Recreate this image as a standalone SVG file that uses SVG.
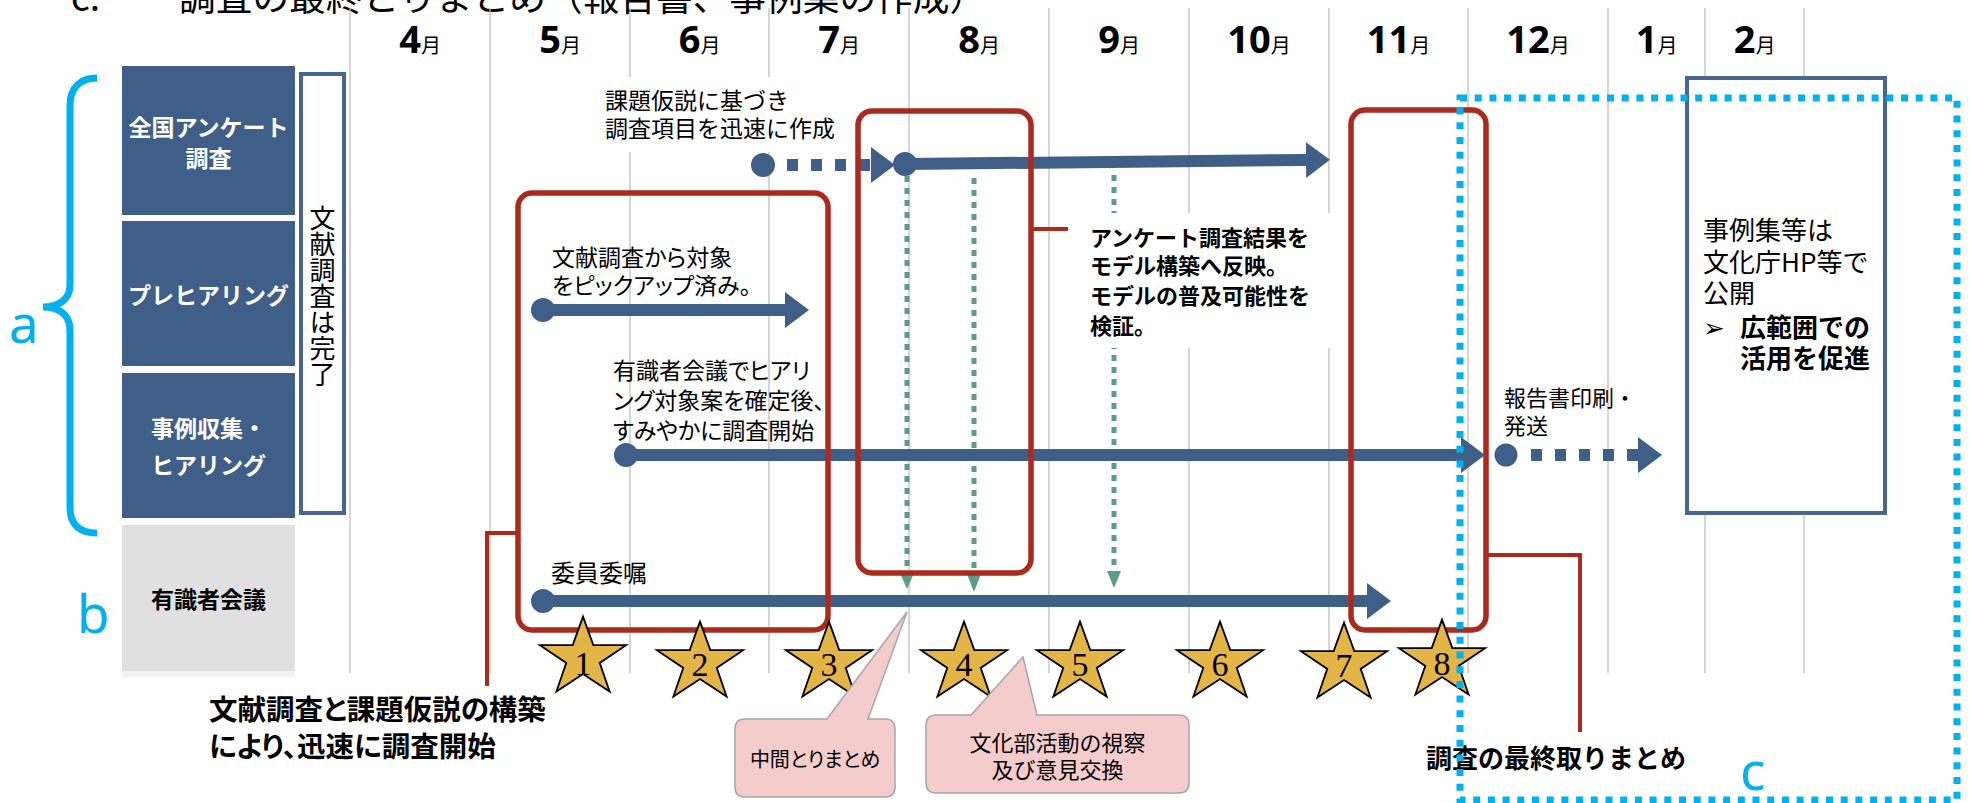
<svg xmlns="http://www.w3.org/2000/svg" width="1970" height="803" viewBox="0 0 1970 803">
<style>
text{font-family:"Noto Sans CJK JP","Noto Sans",sans-serif;fill:#000}
.p{font-feature-settings:"palt"}
.grid{stroke:#BFBFBF;stroke-width:1.3}
.hdr{fill:#405F88}
.hdrt{fill:#fff;font-weight:bold;font-size:23px;text-anchor:middle}
.mn{font-size:38px;font-weight:bold;font-family:"Noto Sans",sans-serif}
.mj{font-size:20px}
.t23{font-size:23px}
.t22{font-size:22px}
.b22{font-size:22px;font-weight:bold}
.bl{stroke:#405F88;stroke-width:12;fill:none}
.dsh{stroke-dasharray:11 13}
.dot{fill:#405F88}
.red{fill:none;stroke:#AB2A1E;stroke-width:5.5}
.redl{fill:none;stroke:#AB2A1E;stroke-width:4}
.grn{stroke:#5A9B8A;stroke-width:5;stroke-dasharray:6 6}
.gh{fill:#5A9B8A}
.star{fill:#E3B547;stroke:#000;stroke-width:1.8}
.sn{font-family:"Liberation Serif",serif;font-size:34px;text-anchor:middle}
.call{fill:#F4CCCC;stroke:#A6A6A6;stroke-width:1.5}
.cyan{fill:none;stroke:#00B0F0;stroke-width:7;stroke-dasharray:7 7.7}
.lbl{fill:#00B0F0;font-family:"Noto Sans","DejaVu Sans",sans-serif;font-size:53px}
.box{fill:#fff;stroke:#47658E;stroke-width:4}
</style>
<defs>
<marker id="ah" markerUnits="userSpaceOnUse" markerWidth="24" markerHeight="36" refX="0" refY="18" orient="auto"><path d="M0,0 L24,18 L0,36 Z" fill="#405F88"/></marker>
<path id="star" d="M0,-41.4 L10.3,-12.9 L43.1,-12.8 L16.7,4.9 L26.6,33.5 L0,16 L-26.6,33.5 L-16.7,4.9 L-43.1,-12.8 L-10.3,-12.9 Z"/>
</defs>

<g id="title">
<text x="71" y="11" font-size="37">c.</text>
<text x="179" y="11" font-size="36.7">調査の最終とりまとめ（報告書、事例集の作成）</text>
</g>

<g id="grid">
<line class="grid" x1="350" y1="8" x2="350" y2="673"/>
<line class="grid" x1="490" y1="8" x2="490" y2="673"/>
<line class="grid" x1="630" y1="8" x2="630" y2="673"/>
<line class="grid" x1="769" y1="8" x2="769" y2="673"/>
<line class="grid" x1="909" y1="8" x2="909" y2="673"/>
<line class="grid" x1="1049" y1="8" x2="1049" y2="673"/>
<line class="grid" x1="1189" y1="8" x2="1189" y2="673"/>
<line class="grid" x1="1329" y1="8" x2="1329" y2="673"/>
<line class="grid" x1="1468" y1="8" x2="1468" y2="673"/>
<line class="grid" x1="1608" y1="8" x2="1608" y2="673"/>
<line class="grid" x1="1705" y1="8" x2="1705" y2="673"/>
<line class="grid" x1="1804" y1="8" x2="1804" y2="673"/>
</g>

<g id="months">
<text x="420" y="53" text-anchor="middle"><tspan class="mn">4</tspan><tspan class="mj">月</tspan></text>
<text x="560" y="53" text-anchor="middle"><tspan class="mn">5</tspan><tspan class="mj">月</tspan></text>
<text x="699.5" y="53" text-anchor="middle"><tspan class="mn">6</tspan><tspan class="mj">月</tspan></text>
<text x="839" y="53" text-anchor="middle"><tspan class="mn">7</tspan><tspan class="mj">月</tspan></text>
<text x="979" y="53" text-anchor="middle"><tspan class="mn">8</tspan><tspan class="mj">月</tspan></text>
<text x="1119" y="53" text-anchor="middle"><tspan class="mn">9</tspan><tspan class="mj">月</tspan></text>
<text x="1259" y="53" text-anchor="middle"><tspan class="mn">10</tspan><tspan class="mj">月</tspan></text>
<text x="1398.5" y="53" text-anchor="middle"><tspan class="mn">11</tspan><tspan class="mj">月</tspan></text>
<text x="1538" y="53" text-anchor="middle"><tspan class="mn">12</tspan><tspan class="mj">月</tspan></text>
<text x="1656.5" y="53" text-anchor="middle"><tspan class="mn">1</tspan><tspan class="mj">月</tspan></text>
<text x="1754.5" y="53" text-anchor="middle"><tspan class="mn">2</tspan><tspan class="mj">月</tspan></text>
</g>

<g id="brace-labels">
<path d="M97,78 C80,78 70,88 70,105 L70,285 C70,300 58,307 43,307 C58,307 70,314 70,330 L70,508 C70,525 80,533 97,533" fill="none" stroke="#00B0F0" stroke-width="7"/>
<text class="lbl" x="9" y="343">a</text>
<text class="lbl" x="77" y="633">b</text>
</g>

<g id="hdr-survey"><rect class="hdr" x="122" y="66" width="173" height="149"/><text class="hdrt" x="208.5" y="136">全国アンケート</text><text class="hdrt" x="208.5" y="167">調査</text></g>
<g id="hdr-pre"><rect class="hdr" x="122" y="221" width="173" height="145"/><text class="hdrt" x="208.5" y="304">プレヒアリング</text></g>
<g id="hdr-case"><rect class="hdr" x="122" y="373" width="173" height="145"/><text class="hdrt" x="208.5" y="437">事例収集・</text><text class="hdrt" x="208.5" y="474">ヒアリング</text></g>
<g id="hdr-expert"><rect fill="#E0E0E0" x="122" y="525" width="173" height="146"/><rect fill="#F2F2F2" x="122" y="671" width="173" height="6"/><text x="208.5" y="608" font-size="23" font-weight="bold" text-anchor="middle">有識者会議</text></g>

<g id="lit-done">
<rect class="box" x="301" y="74" width="43" height="439"/>
<text x="322.5" y="205" font-size="26" writing-mode="vertical-rl">文献調査は完了</text>
</g>

<g id="green-arrows">
<line class="grn" x1="907" y1="176" x2="907" y2="573"/><path class="gh" d="M900,573 L914,573 L907,589 Z"/>
<line class="grn" x1="974" y1="178" x2="974" y2="575"/><path class="gh" d="M967,574 L981,574 L974,592 Z"/>
<line class="grn" x1="1114" y1="175" x2="1114" y2="571"/><path class="gh" d="M1107,571 L1121,571 L1114,588 Z"/>
</g>

<g id="text-bg">
<rect x="592" y="77" width="264" height="75" fill="#fff"/>
<rect x="1072" y="213" width="264" height="135" fill="#fff"/>
</g>

<g id="connectors">
<circle class="dot" cx="763" cy="165" r="12"/>
<line class="bl dsh" x1="787" y1="165" x2="871" y2="165" marker-end="url(#ah)"/>
<circle class="dot" cx="905" cy="164" r="12"/>
<line class="bl" x1="905" y1="164" x2="1306" y2="160" marker-end="url(#ah)"/>
<circle class="dot" cx="543" cy="310" r="12"/>
<line class="bl" x1="543" y1="310" x2="785" y2="310" marker-end="url(#ah)"/>
<circle class="dot" cx="626" cy="455" r="12"/>
<line class="bl" x1="626" y1="455" x2="1461" y2="455" marker-end="url(#ah)"/>
<circle class="dot" cx="1506" cy="455" r="11.5"/>
<line class="bl dsh" x1="1531" y1="455" x2="1638" y2="455" marker-end="url(#ah)"/>
<circle class="dot" cx="543" cy="601" r="12"/>
<line class="bl" x1="543" y1="601" x2="1367" y2="601" marker-end="url(#ah)"/>
<polyline class="redl" points="518,533 487,533 487,686"/>
<line class="redl" x1="1031" y1="229" x2="1068" y2="229"/>
<polyline class="redl" points="1487,555 1580,555 1580,732"/>
</g>

<g id="labels">
<text class="t23" x="605" y="109">課題仮説に基づき</text>
<text class="t23" x="605" y="137">調査項目を迅速に作成</text>
<text class="t23 p" x="552" y="266">文献調査から対象</text>
<text class="t23 p" x="552" y="294">をピックアップ済み。</text>
<text class="t23 p" x="613" y="379">有識者会議でヒアリ</text>
<text class="t23 p" x="613" y="409">ング対象案を確定後、</text>
<text class="t23 p" x="613" y="439">すみやかに調査開始</text>
<text x="551" y="582" font-size="24">委員委嘱</text>
<text class="t22" x="1504" y="406">報告書印刷・</text>
<text class="t22" x="1504" y="434">発送</text>
</g>

<g id="survey-note">
<text class="b22" x="1090" y="246">アンケート調査結果を</text>
<text class="b22" x="1090" y="274">モデル構築へ反映。</text>
<text class="b22" x="1090" y="304">モデルの普及可能性を</text>
<text class="b22" x="1090" y="334">検証。</text>
</g>

<g id="publish">
<rect class="box" x="1687" y="78" width="198" height="435" stroke-width="4.5"/>
<text x="1703" y="240" font-size="26">事例集等は</text>
<text x="1703" y="272" font-size="26">文化庁HP等で</text>
<text x="1703" y="303" font-size="26">公開</text>
<text x="1703" y="337" font-size="26" font-family="DejaVu Sans,sans-serif">➢</text>
<text x="1740" y="337" font-size="26" font-weight="bold">広範囲での</text>
<text x="1740" y="368" font-size="26" font-weight="bold">活用を促進</text>
</g>

<g id="red-boxes">
<rect class="red" x="518" y="193" width="310" height="437" rx="14"/>
<rect class="red" x="858" y="111" width="173" height="462" rx="14"/>
<rect class="red" x="1351" y="110" width="135" height="520" rx="14"/>
</g>

<g id="stars">
<g id="star1"><use href="#star" class="star" x="583" y="658"/><text class="sn" x="583" y="675">1</text></g>
<g id="star2"><use href="#star" class="star" x="700" y="663"/><text class="sn" x="700" y="676">2</text></g>
<g id="star3"><use href="#star" class="star" x="829" y="663"/><text class="sn" x="829" y="676">3</text></g>
<g id="star4"><use href="#star" class="star" x="964" y="663"/><text class="sn" x="964" y="676">4</text></g>
<g id="star5"><use href="#star" class="star" x="1080" y="663"/><text class="sn" x="1080" y="676">5</text></g>
<g id="star6"><use href="#star" class="star" x="1220" y="663"/><text class="sn" x="1220" y="676">6</text></g>
<g id="star7"><use href="#star" class="star" x="1344" y="664"/><text class="sn" x="1344" y="677">7</text></g>
<g id="star8"><use href="#star" class="star" x="1442" y="661"/><text class="sn" x="1442" y="675">8</text></g>
</g>

<g id="callout-mid">
<path class="call" d="M745,719 L827,719 L907,612 L868,719 L885,719 Q895,719 895,729 L895,787 Q895,797 885,797 L745,797 Q735,797 735,787 L735,729 Q735,719 745,719 Z"/>
<text class="p" x="815" y="767" font-size="20" text-anchor="middle">中間とりまとめ</text>
</g>
<g id="callout-visit">
<path class="call" d="M936,715 L971,715 L1023,657 L1037,715 L1179,715 Q1189,715 1189,725 L1189,783 Q1189,793 1179,793 L936,793 Q926,793 926,783 L926,725 Q926,715 936,715 Z"/>
<text x="1057.5" y="751" font-size="22" text-anchor="middle">文化部活動の視察</text>
<text x="1057.5" y="778" font-size="22" text-anchor="middle">及び意見交換</text>
</g>

<g id="captions">
<text class="p" x="209" y="720" font-size="28.5" font-weight="bold">文献調査と課題仮説の構築</text>
<text class="p" x="209" y="757" font-size="28.5" font-weight="bold">により、迅速に調査開始</text>
<text x="1426" y="768" font-size="26" font-weight="bold">調査の最終取りまとめ</text>
</g>

<g id="phase-c">
<rect class="cyan" x="1460" y="98" width="497" height="702"/>
<text class="lbl" x="1740" y="790">c</text>
</g>
</svg>
